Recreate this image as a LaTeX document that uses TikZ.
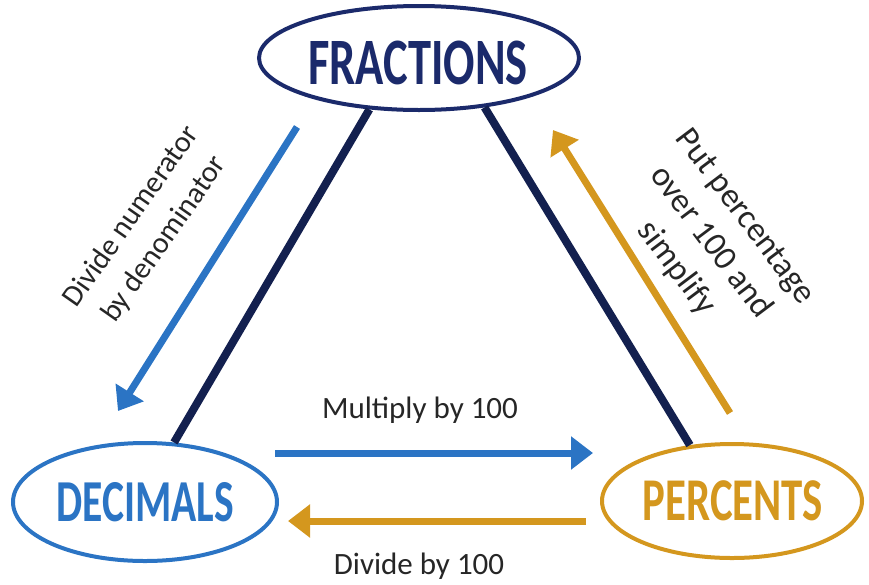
\documentclass[tikz,border=0pt]{standalone}
\usepackage{fontspec}
\setmainfont{Carlito}
\usetikzlibrary{shapes.geometric,arrows.meta}
\definecolor{navy}{HTML}{1B2A6B}
\definecolor{navyline}{HTML}{13204F}
\definecolor{myblue}{HTML}{2B74C4}
\definecolor{gold}{HTML}{D4971E}
\begin{document}
\begin{tikzpicture}[x=1pt,y=-1pt]
\tikzset{
 bubble/.style={ellipse, draw, line width=4pt, inner sep=0pt},
 bubbletext/.style={inner sep=0pt, font=\fontsize{62}{62}\selectfont\bfseries},
 edgeline/.style={line width=8pt, navyline},
 arr/.style={line width=7pt, -{Triangle[length=22pt,width=32pt]}},
 lbl/.style={font=\fontsize{31}{40}\selectfont, text=black!85, align=center, inner sep=0pt},
}
\useasboundingbox (0,0) rectangle (869,584);
\node[bubble, navy, minimum width=320pt, minimum height=104pt] (F) at (419,58) {};
\node[bubbletext, navy] (Ft) at (418,63) {\scalebox{0.75}[1.07]{FRACTIONS}};
\node[bubble, myblue, minimum width=264pt, minimum height=118pt] (D) at (145,502) {};
\node[bubbletext, myblue] (Dt) at (145,502) {\scalebox{0.67}[0.96]{DECIMALS}};
\node[bubble, gold, minimum width=260pt, minimum height=114pt] (P) at (732,501) {};
\node[bubbletext, gold] (Pt) at (733,501) {\scalebox{0.69}[0.98]{PERCENTS}};
\draw[edgeline] (F.226) -- (D.64);
\draw[edgeline] (F.323) -- (P.127);
\coordinate (b1) at (297,127); \coordinate (b2) at (118,411);
\coordinate (g1) at (730,413); \coordinate (g2) at (553,130);
\coordinate (m1) at (275,453); \coordinate (m2) at (593,453);
\coordinate (d1) at (586,521); \coordinate (d2) at (288,521);
\draw[arr, myblue] (b1) -- (b2);
\draw[arr, gold] (g1) -- (g2);
\draw[arr, myblue] (m1) -- (m2);
\draw[arr, gold] (d1) -- (d2);
\node[lbl] (mul) at (420,410) {Multiply by 100};
\node[lbl] (div) at (419,566) {Divide by 100};
\node[lbl, font=\fontsize{30}{40}\selectfont, rotate=55] (lt) at (148,228) {Divide numerator\\by denominator};
\node[lbl, font=\fontsize{34}{43}\selectfont, rotate=-53] (rt) at (710,243) {Put percentage\\over 100 and\\simplify};
\end{tikzpicture}
\end{document}
